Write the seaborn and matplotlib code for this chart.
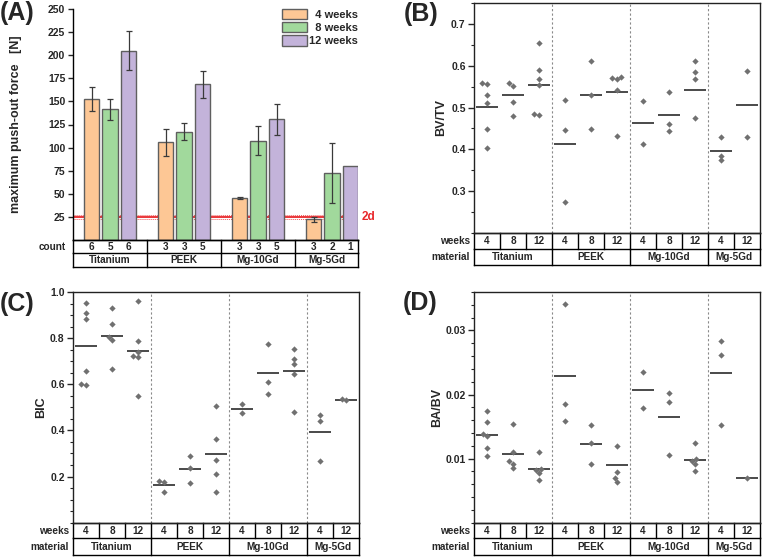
import numpy as np
import pandas as pd
import matplotlib
matplotlib.use("Agg")
import matplotlib.pyplot as plt
import matplotlib.transforms as mtransforms
from matplotlib.container import BarContainer
import seaborn as sns
from matplotlib.ticker import MultipleLocator, FixedLocator

sns.set_style("ticks")
plt.rcParams["font.family"] = ["Liberation Sans", "DejaVu Sans"]
plt.rcParams["font.weight"] = "bold"
plt.rcParams["axes.labelweight"] = "bold"

materials = ["Titanium", "PEEK", "Mg-10Gd", "Mg-5Gd"]
weeks = ["4 weeks", "8 weeks", "12 weeks"]
week_colors = ["#fdc795", "#a1d99c", "#c3b3da"]

# (A) maximum push-out force [N], per material (same order as `materials`)
force_4w = [152.4, 105.8, 45.5, 22.4]
force_8w = [141.6, 117.4, 107.6, 72.6]
force_12w = [205.0, 168.3, 130.7, 80.5]
sd_4w = [13.2, 14.6, 0.7, 2.7]
sd_8w = [11.2, 8.9, 15.4, 32.2]
sd_12w = [20.8, 14.6, 17.0, np.nan]
n_4w = [6, 3, 3, 3]
n_8w = [5, 3, 3, 2]
n_12w = [6, 5, 5, 1]
limit_2d = 25.0
limit_2d_band = 2.5

# (B)-(D) groups: material x weeks
group_material = ["Titanium"] * 3 + ["PEEK"] * 3 + ["Mg-10Gd"] * 3 + ["Mg-5Gd"] * 2
group_weeks = ["4", "8", "12", "4", "8", "12", "4", "8", "12", "4", "12"]

bvtv_points = [
    [0.558, 0.556, 0.531, 0.510, 0.448, 0.403],
    [0.558, 0.551, 0.513, 0.480],
    [0.655, 0.589, 0.568, 0.553, 0.485, 0.483],
    [0.519, 0.446, 0.275],
    [0.611, 0.529, 0.449],
    [0.574, 0.571, 0.569, 0.542, 0.432],
    [0.515, 0.413],
    [0.537, 0.461, 0.443],
    [0.611, 0.586, 0.569, 0.476],
    [0.430, 0.385, 0.374],
    [0.587, 0.429],
]
bvtv_means = [0.501, 0.531, 0.555, 0.413, 0.529, 0.537, 0.464, 0.481, 0.543, 0.396, 0.507]

bic_points = [
    [0.954, 0.909, 0.883, 0.658, 0.601, 0.597],
    [0.929, 0.862, 0.804, 0.790, 0.666],
    [0.963, 0.786, 0.738, 0.721, 0.717, 0.550],
    [0.181, 0.178, 0.131],
    [0.291, 0.235, 0.174],
    [0.505, 0.364, 0.273, 0.210, 0.134],
    [0.514, 0.476],
    [0.774, 0.610, 0.558],
    [0.754, 0.711, 0.689, 0.645, 0.479],
    [0.466, 0.442, 0.269],
    [0.538, 0.531],
]
bic_means = [0.767, 0.810, 0.745, 0.164, 0.233, 0.298, 0.494, 0.647, 0.656, 0.393, 0.534]

babv_points = [
    [0.0174, 0.0157, 0.0138, 0.0135, 0.0117, 0.0104],
    [0.0154, 0.0110, 0.0096, 0.0092, 0.0085],
    [0.0110, 0.0084, 0.0083, 0.0078, 0.0066],
    [0.0342, 0.0186, 0.0158],
    [0.0153, 0.0124, 0.0092],
    [0.0119, 0.0079, 0.0070, 0.0064],
    [0.0235, 0.0179],
    [0.0202, 0.0188, 0.0106],
    [0.0124, 0.0100, 0.0096, 0.0091, 0.0081],
    [0.0284, 0.0262, 0.0153],
    [0.0069],
]
babv_means = [0.0137, 0.0107, 0.0084, 0.0229, 0.0123, 0.0090, 0.0207, 0.0165, 0.0098, 0.0233, 0.0069]

W, H = 764, 558
fig = plt.figure(figsize=(W / 100, H / 100), dpi=100)


def px_axes(left, top, right, bottom):
    return fig.add_axes([left / W, (H - bottom) / H, (right - left) / W, (bottom - top) / H])


TXT = dict(fontsize=7.2, fontweight="bold")


def draw_table(ax, cuts1, cuts2, h1, h2):
    x0, x1 = ax.get_xlim()
    tr = ax.get_xaxis_transform()
    kw = dict(color="black", lw=1.0, transform=tr, clip_on=False, solid_capstyle="projecting")
    for y in (0, -h1, -h1 - h2):
        ax.plot([x0, x1], [y, y], **kw)
    for x in [x0, x1] + list(cuts1):
        ax.plot([x, x], [0, -h1], **kw)
    for x in [x0, x1] + list(cuts2):
        ax.plot([x, x], [-h1, -h1 - h2], **kw)
    ax.set_xlim(x0, x1)


# ---------------- (A) ----------------
axA = px_axes(73, 9, 358, 240)
dfA = pd.DataFrame({
    "material": materials * 3,
    "weeks": np.repeat(weeks, 4),
    "force": force_4w + force_8w + force_12w,
})
sds = [sd_4w, sd_8w, sd_12w]
counts = [n_4w, n_8w, n_12w]

axA.axhline(limit_2d, color="#e8262a", lw=1.3, zorder=0.5)
for d in (-limit_2d_band, limit_2d_band):
    axA.axhline(limit_2d + d, color="#ef5a5a", lw=0.7, ls=(0, (1, 1)), zorder=0.5)

sns.barplot(data=dfA, x="material", y="force", hue="weeks", order=materials,
            hue_order=weeks, palette=week_colors, saturation=1, width=0.75, gap=0.17,
            errorbar=None, edgecolor="#5f5f5f", linewidth=1.0, ax=axA)
axA.set_xlim(-0.5, 3.35)
axA.set_ylim(0, 250)

hA1, hA2 = 13.3 / 231, 13.3 / 231
tr = axA.get_xaxis_transform()
bar_groups = [c for c in axA.containers if isinstance(c, BarContainer)]
for i, cont in enumerate(bar_groups):
    for j, bar in enumerate(cont.patches):
        xc = bar.get_x() + bar.get_width() / 2
        if not np.isnan(sds[i][j]):
            axA.errorbar(xc, bar.get_height(), yerr=sds[i][j], fmt="none",
                         ecolor="#3a3a3a", elinewidth=0.9, capsize=2.5, capthick=0.9, zorder=4)
        axA.text(xc, -hA1 / 2, str(counts[i][j]), transform=tr, ha="center", va="center", **TXT)

draw_table(axA, [0.5, 1.5, 2.5], [0.5, 1.5, 2.5], hA1, hA2)
for k, m in enumerate(materials):
    xc = k if k < 3 else (2.5 + 3.35) / 2
    axA.text(xc, -hA1 - hA2 / 2, m, transform=tr, ha="center", va="center", **TXT)
axA.text(-0.025, -hA1 / 2, "count", transform=axA.transAxes, ha="right", va="center", **TXT)

axA.text(1.012, limit_2d, "2d", color="#e8262a", fontsize=8.5, fontweight="bold", va="center",
         transform=mtransforms.blended_transform_factory(axA.transAxes, axA.transData))

axA.yaxis.set_major_locator(FixedLocator(np.arange(25, 251, 25)))
axA.set_xlabel("")
axA.set_ylabel("maximum push-out force   [N]", fontsize=9, fontweight="bold")
axA.yaxis.set_label_coords(-0.18, 0.5)
axA.tick_params(axis="x", length=0, labelbottom=False)
axA.tick_params(axis="y", labelsize=7.5, length=3.5, width=1, pad=2)
plt.setp(axA.get_yticklabels(), fontweight="bold")
sns.despine(ax=axA)
for s in ("left", "bottom"):
    axA.spines[s].set_linewidth(1.0)
    axA.spines[s].set_color("black")

handles, _ = axA.get_legend_handles_labels()
axA.legend(handles, ["  4 weeks", "  8 weeks", "12 weeks"], loc="upper left",
           bbox_to_anchor=(0.733, 1.0), frameon=False, borderpad=0,
           borderaxespad=0, handlelength=2.25, handleheight=1.05, labelspacing=0.2,
           handletextpad=0.2, prop={"weight": "bold", "size": 8})


# ---------------- (B)-(D) ----------------
def dot_panel(ax, points, means, ylim, major, minor, fmt, ylabel, lab_x):
    labels = [f"{m} {w}" for m, w in zip(group_material, group_weeks)]
    rows = [(labels[g], v) for g, pts in enumerate(points) for v in pts]
    df = pd.DataFrame(rows, columns=["group", "value"])
    for x in (2.5, 5.5, 8.5):
        ax.axvline(x, color="#8a8a8a", lw=0.8, ls=(0, (2, 2)), zorder=0.5)
    sns.swarmplot(data=df, x="group", y="value", order=labels, color="#707070",
                  marker="D", size=3.2, linewidth=0, ax=ax, zorder=3)
    pos = np.arange(len(labels))
    ax.hlines(means, pos - 0.43, pos + 0.43, color="#3c3c3c", lw=1.3, zorder=2)
    ax.set_xlim(-0.5, 10.5)
    ax.set_ylim(*ylim)
    ax.yaxis.set_major_locator(FixedLocator(major))
    ax.yaxis.set_minor_locator(MultipleLocator(minor))
    ax.yaxis.set_major_formatter(plt.FormatStrFormatter(fmt))
    ax.set_xlabel("")
    ax.set_ylabel(ylabel, fontsize=9, fontweight="bold")
    ax.yaxis.set_label_coords(lab_x, 0.5)
    ax.tick_params(axis="x", which="both", length=0, labelbottom=False)
    ax.tick_params(axis="y", which="major", labelsize=7.5, length=4, width=1, pad=2)
    ax.tick_params(axis="y", which="minor", length=2.5, width=0.8)
    plt.setp(ax.get_yticklabels(), fontweight="bold")
    for s in ax.spines.values():
        s.set_linewidth(1.0)
        s.set_color("#222222")

    h1, h2 = 15.6 / 230.5, 16.7 / 230.5
    draw_table(ax, [0.5, 1.5, 2.5, 3.5, 4.5, 5.5, 6.5, 7.5, 8.5, 9.5], [2.5, 5.5, 8.5], h1, h2)
    trx = ax.get_xaxis_transform()
    for p, w in zip(pos, group_weeks):
        ax.text(p, -h1 / 2, w, transform=trx, ha="center", va="center", **TXT)
    for m, xc in zip(materials, [1, 4, 7, 9.5]):
        ax.text(xc, -h1 - h2 / 2, m, transform=trx, ha="center", va="center", **TXT)
    ax.text(-0.014, -h1 / 2, "weeks", transform=ax.transAxes, ha="right", va="center", **TXT)
    ax.text(-0.014, -h1 - h2 / 2, "material", transform=ax.transAxes, ha="right", va="center",
            **TXT)


axB = px_axes(474, 3, 760, 233)
dot_panel(axB, bvtv_points, bvtv_means, (0.2, 0.75), [0.3, 0.4, 0.5, 0.6, 0.7], 0.05, "%.1f",
          "BV/TV", -0.094)
axC = px_axes(73, 292, 359, 522.7)
dot_panel(axC, bic_points, bic_means, (0.0, 1.0), [0.2, 0.4, 0.6, 0.8, 1.0], 0.05, "%.1f",
          "BIC", -0.091)
axD = px_axes(474, 292, 760, 522.7)
dot_panel(axD, babv_points, babv_means, (0.0, 0.036), [0.01, 0.02, 0.03], 0.002, "%.2f",
          "BA/BV", -0.108)

for lab, x, yb in (("(A)", 0, 20), ("(B)", 404, 21), ("(C)", 0, 311), ("(D)", 403, 310)):
    fig.text(x / W, 1 - yb / H, lab, fontsize=18, fontweight="bold", ha="left", va="baseline")

fig.savefig("out.png", dpi=100)
